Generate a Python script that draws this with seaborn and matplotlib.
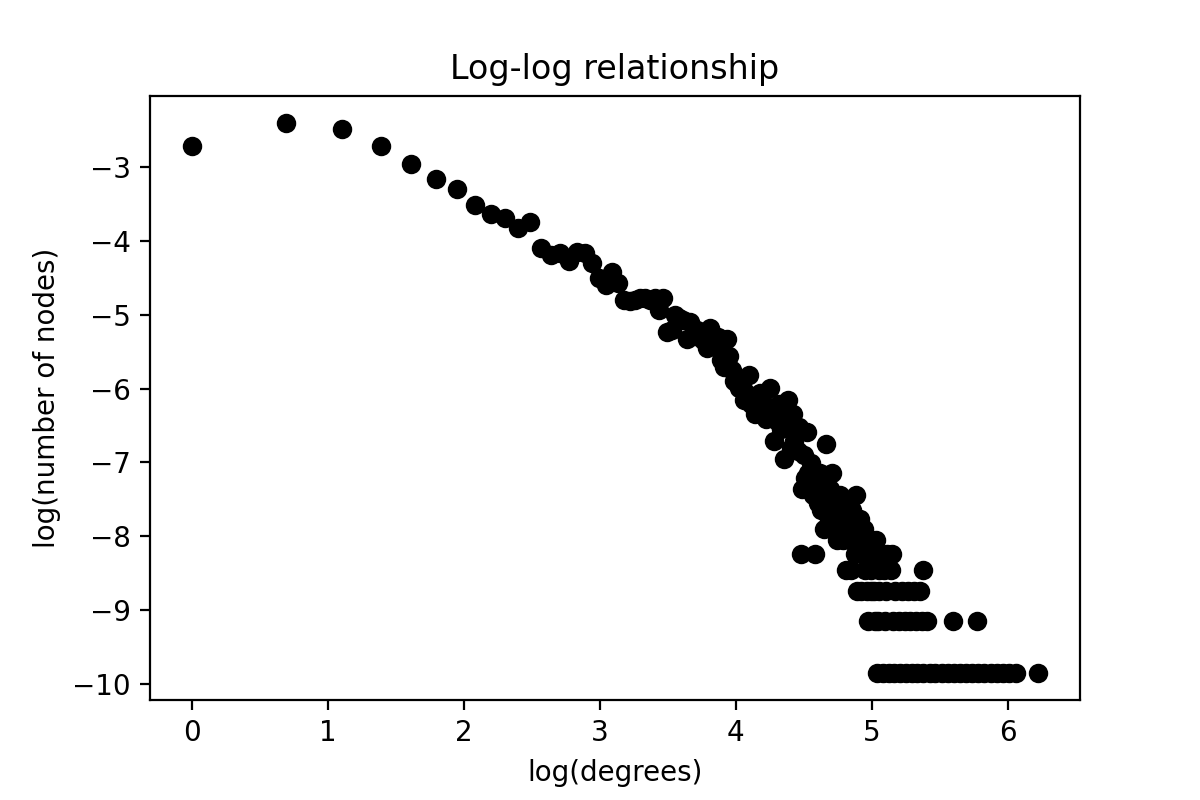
import numpy as np
import pandas as pd
import matplotlib
matplotlib.use("Agg")
import matplotlib.pyplot as plt
import seaborn as sns

total_nodes = 18900

degrees = list(range(1, 154)) + [
    154, 155, 156, 157, 159, 161, 162, 163, 165, 166, 168, 171, 172, 173, 175,
    176, 181, 183, 185, 189, 191, 194, 197, 199, 202, 205, 207, 211, 214, 216,
    217, 223, 227, 237, 248, 259, 270, 271, 284, 297, 311, 321, 325, 340, 356,
    372, 389, 407, 428, 503,
]

node_counts = [
    # 1-10
    1257, 1697, 1567, 1250, 980, 802, 697, 565, 501, 472,
    # 11-20
    410, 444, 313, 286, 292, 262, 298, 292, 256, 208,
    # 21-30
    190, 227, 196, 156, 153, 156, 159, 159, 156, 159,
    # 31-40
    135, 159, 101, 103, 127, 121, 118, 91, 115, 96,
    # 41-50
    104, 100, 90, 81, 107, 89, 85, 94, 69, 63,
    # 51-60
    91, 73, 60, 52, 54, 47, 49, 40, 44, 56,
    # 61-70
    38, 42, 33, 36, 44, 35, 38, 31, 35, 47,
    # 71-80
    33, 23, 35, 30, 38, 27, 31, 18, 35, 40,
    # 81-90
    30, 21, 33, 23, 26, 20, 28, 5, 12, 19,
    # 91-100
    14, 26, 15, 13, 17, 11, 14, 5, 12, 10,
    # 101-110
    15, 9, 13, 7, 11, 22, 10, 8, 12, 9,
    # 111-120
    15, 7, 10, 8, 6, 9, 11, 7, 8, 6,
    # 121-130
    9, 10, 4, 7, 8, 6, 4, 9, 7, 8,
    # 131-140
    5, 11, 3, 7, 6, 8, 3, 5, 6, 7,
    # 141-150
    4, 5, 3, 2, 5, 6, 4, 3, 6, 5,
    # 151-153
    3, 2, 6,
    # sparse tail
    1, 2, 4, 3, 5, 1, 4, 2, 3, 5, 1, 4, 5, 2, 1,
    3, 2, 1, 3, 2, 1, 3, 2, 1, 3, 2, 1, 3, 2, 4,
    1, 2, 1, 1, 1, 1, 2, 1, 1, 1, 1, 2, 1, 1, 1,
    1, 1, 1, 1, 1,
]

assert len(degrees) == len(node_counts)

df = pd.DataFrame({"degree": degrees, "count": node_counts})
df["log_degree"] = np.log(df["degree"])
df["log_nodes"] = np.log(df["count"] / total_nodes)

fig, ax = plt.subplots(figsize=(6, 4), dpi=200)
fig.subplots_adjust(left=0.125, right=0.9, top=0.88, bottom=0.125)
sns.scatterplot(data=df, x="log_degree", y="log_nodes", ax=ax,
                color="black", edgecolor="black", linewidth=1.0, s=36)
ax.set_title("Log-log relationship")
ax.set_xlabel("log(degrees)")
ax.set_ylabel("log(number of nodes)")
fig.savefig("out.png", dpi=200)
